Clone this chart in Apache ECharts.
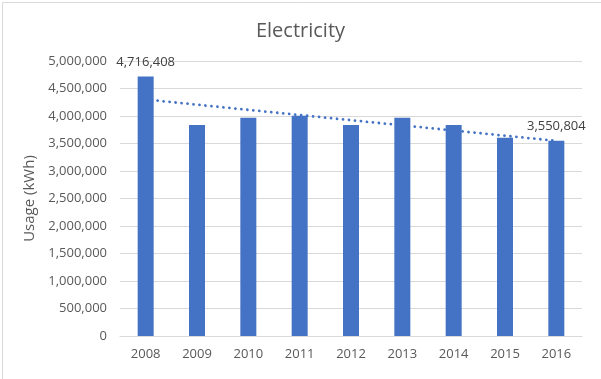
<!DOCTYPE html>
<html>
<head>
<meta charset="utf-8">
<script src="https://cdn.jsdelivr.net/npm/echarts@6/dist/echarts.min.js"></script>
<style>
html,body{margin:0;padding:0;background:#fff;}
#chart{width:601px;height:379px;}
</style>
</head>
<body>
<div id="chart"></div>
<script>
var years = ['2008','2009','2010','2011','2012','2013','2014','2015','2016'];
var usage = [4716408, 3835000, 3968000, 4004000, 3835000, 3968000, 3835000, 3604000, 3550804];
var trendEnds = [4300000, 3548000];
var labelledIdx = [0, 8];
var yTicks = {min: 0, max: 5000000, step: 500000};

var FONT = 'Open Sans';
var TXT = '#595959';
function fmt(v){ return Number(v).toLocaleString('en-US'); }

var barData = usage.map(function(v, i){
  var item = {value: v};
  if (labelledIdx.indexOf(i) >= 0) {
    item.label = {show: true, position: 'top', distance: 8, formatter: function(p){ return fmt(p.value); },
      fontFamily: FONT, fontSize: 13, color: '#404040'};
  }
  return item;
});
var trendData = years.map(function(y, i){
  if (i === 0) return trendEnds[0];
  if (i === years.length - 1) return trendEnds[1];
  return null;
});

var chart = echarts.init(document.getElementById('chart'), null, {renderer: 'canvas'});
chart.setOption({
  animation: false,
  backgroundColor: '#ffffff',
  title: {
    text: 'Electricity', left: 'center', top: 16,
    textStyle: {fontFamily: FONT, fontSize: 20, fontWeight: 'normal', color: TXT}
  },
  graphic: [{
    type: 'rect', left: 0, top: 0, silent: true,
    shape: {x: 0, y: 0, width: 600, height: 378},
    style: {fill: 'none', stroke: '#d9d9d9', lineWidth: 1}
  }],
  grid: {left: 120, right: 19, top: 61, bottom: 43, containLabel: false},
  xAxis: {
    type: 'category', data: years,
    axisLine: {lineStyle: {color: '#d9d9d9', width: 1}},
    axisTick: {show: false},
    axisLabel: {fontFamily: FONT, fontSize: 13, color: TXT, margin: 12}
  },
  yAxis: {
    type: 'value', min: yTicks.min, max: yTicks.max, interval: yTicks.step,
    name: 'Usage (kWh)', nameLocation: 'middle', nameRotate: 90, nameGap: 81,
    nameTextStyle: {fontFamily: FONT, fontSize: 15, color: TXT},
    axisLine: {show: false}, axisTick: {show: false},
    splitLine: {lineStyle: {color: '#d9d9d9', width: 1}},
    axisLabel: {fontFamily: FONT, fontSize: 13, color: TXT, margin: 13, formatter: fmt}
  },
  series: [{
    type: 'bar', data: barData, barWidth: 16,
    itemStyle: {color: '#4472c4'}
  }, {
    type: 'line', data: trendData, connectNulls: true,
    symbol: 'none', silent: true, z: 5,
    lineStyle: {color: '#4472c4', width: 2.8, type: [0.01, 6], cap: 'round'}
  }]
});
</script>
</body>
</html>
